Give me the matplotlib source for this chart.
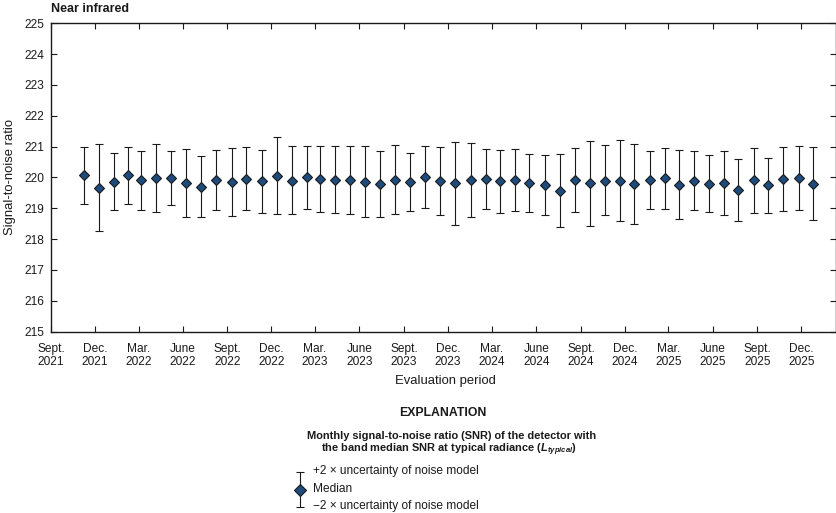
import numpy as np
import pandas as pd
import matplotlib
matplotlib.use("Agg")
import matplotlib.pyplot as plt

FONT = ["Liberation Sans", "DejaVu Sans"]
plt.rcParams["font.family"] = FONT
plt.rcParams["mathtext.fontset"] = "custom"
plt.rcParams["mathtext.rm"] = "Liberation Sans"
plt.rcParams["mathtext.bfit"] = "Liberation Sans:italic:bold"

# ---- data ----
eval_dates = [
    "2021-11-08", "2021-12-09", "2022-01-09", "2022-02-08", "2022-03-06", "2022-04-07",
    "2022-05-07", "2022-06-08", "2022-07-09", "2022-08-09", "2022-09-10", "2022-10-10",
    "2022-11-11", "2022-12-12", "2023-01-12", "2023-02-12", "2023-03-12", "2023-04-12",
    "2023-05-12", "2023-06-12", "2023-07-13", "2023-08-14", "2023-09-14", "2023-10-14",
    "2023-11-14", "2023-12-15", "2024-01-18", "2024-02-18", "2024-03-17", "2024-04-17",
    "2024-05-17", "2024-06-18", "2024-07-19", "2024-08-19", "2024-09-20", "2024-10-20",
    "2024-11-21", "2024-12-20", "2025-01-21", "2025-02-22", "2025-03-22", "2025-04-22",
    "2025-05-23", "2025-06-23", "2025-07-23", "2025-08-24", "2025-09-24", "2025-10-25",
    "2025-11-26", "2025-12-26",
]
median = [
    220.08, 219.65, 219.84, 220.09, 219.91, 219.97, 219.99, 219.81, 219.70, 219.92,
    219.86, 219.96, 219.87, 220.05, 219.89, 220.00, 219.94, 219.91, 219.90, 219.86,
    219.80, 219.91, 219.85, 220.02, 219.88, 219.82, 219.91, 219.95, 219.88, 219.91,
    219.83, 219.76, 219.57, 219.92, 219.82, 219.89, 219.89, 219.79, 219.92, 219.98,
    219.76, 219.89, 219.80, 219.83, 219.58, 219.90, 219.74, 219.95, 219.97, 219.79,
]
upper = [
    221.00, 221.07, 220.78, 221.00, 220.87, 221.07, 220.87, 220.92, 220.71, 220.89,
    220.95, 221.00, 220.89, 221.31, 221.02, 221.02, 221.02, 221.02, 221.02, 221.02,
    220.86, 221.05, 220.78, 221.03, 220.98, 221.15, 221.11, 220.92, 220.89, 220.92,
    220.76, 220.73, 220.75, 220.96, 221.18, 221.04, 221.20, 221.07, 220.86, 220.94,
    220.88, 220.86, 220.72, 220.86, 220.60, 220.96, 220.63, 221.00, 221.02, 221.00,
]
lower = [
    219.15, 218.25, 218.93, 219.14, 218.95, 218.87, 219.09, 218.70, 218.70, 218.95,
    218.76, 218.94, 218.85, 218.80, 218.80, 218.97, 218.87, 218.84, 218.80, 218.71,
    218.71, 218.80, 218.91, 219.01, 218.79, 218.47, 218.72, 218.97, 218.86, 218.92,
    218.87, 218.78, 218.38, 218.87, 218.41, 218.78, 218.59, 218.48, 218.98, 218.99,
    218.65, 218.93, 218.87, 218.78, 218.57, 218.84, 218.86, 218.91, 218.93, 218.62,
]
tick_dates = pd.date_range("2021-09-01", "2025-12-01", freq="3MS")
month_names = {9: "Sept.", 12: "Dec.", 3: "Mar.", 6: "June"}
tick_labels = [f"{month_names[d.month]}\n{d.year}" for d in tick_dates]
y_ticks = list(range(215, 226))

BLUE = "#1d4b7c"
INK = "#1a1a1a"

# ---- figure ----
W, H = 837, 513
fig = plt.figure(figsize=(W / 100, H / 100), dpi=100)
ax = fig.add_axes([51 / W, 1 - 331.5 / H, (835.7 - 51) / W, (331.5 - 23.3) / H])

x = pd.to_datetime(eval_dates)
med = np.array(median); up = np.array(upper); lo = np.array(lower)
ax.errorbar(x, med, yerr=[med - lo, up - med], fmt="D", ms=5.6, mfc=BLUE, mec=INK, mew=0.8,
            ecolor=INK, elinewidth=0.8, capsize=3, capthick=0.8, zorder=3)

ax.set_xlim(pd.Timestamp("2021-09-01"), pd.Timestamp("2026-02-10"))
ax.set_ylim(215, 225)
ax.set_yticks(y_ticks)
ax.set_xticks(tick_dates)
ax.set_xticklabels(tick_labels, linespacing=1.1)
ax.tick_params(direction="in", length=4.5, width=0.8, color=INK, labelsize=8.6,
               top=True, right=True, labelcolor=INK)
ax.tick_params(axis="y", pad=5)
ax.tick_params(axis="x", pad=8.5)
for s in ax.spines.values():
    s.set_linewidth(1.0); s.set_color(INK)

fig.text(51 / W, 1 - 9 / H, "Near infrared", ha="left", va="center", weight="bold", size=9, color=INK)
fig.text(10 / W, 1 - 177 / H, "Signal-to-noise ratio", rotation=90, ha="center", va="center", size=9.4, color=INK)
fig.text(445 / W, 1 - 381 / H, "Evaluation period", ha="center", va="center", size=9.4, color=INK)

# ---- explanation ----
fig.text(443 / W, 1 - 413 / H, "EXPLANATION", ha="center", va="center", weight="bold", size=8.8, color=INK)
fig.text(452 / W, 1 - 436 / H, "Monthly signal-to-noise ratio (SNR) of the detector with",
         ha="center", va="center", weight="bold", size=7.9, color=INK)
fig.text(449 / W, 1 - 450 / H, r"the band median SNR at typical radiance ($\mathbfit{L}_{\mathbfit{typical}}$)",
         ha="center", va="center", weight="bold", size=7.9, color=INK)

lax = fig.add_axes([0, 0, 1, 1], zorder=-1)
lax.set_xlim(0, W); lax.set_ylim(H, 0); lax.axis("off")
lax.errorbar([300], [489.5], yerr=[[17.5], [17.5]], fmt="D", ms=6, mfc=BLUE, mec=INK, mew=0.8,
             ecolor=INK, elinewidth=0.8, capsize=3, capthick=0.8)
fig.text(313 / W, 1 - 471 / H, "+2 \u00d7 uncertainty of noise model", ha="left", va="center", size=8.6, color=INK)
fig.text(313 / W, 1 - 489 / H, "Median", ha="left", va="center", size=8.6, color=INK)
fig.text(313 / W, 1 - 506 / H, "\u22122 \u00d7 uncertainty of noise model", ha="left", va="center", size=8.6, color=INK)

fig.savefig("out.png", dpi=100)
